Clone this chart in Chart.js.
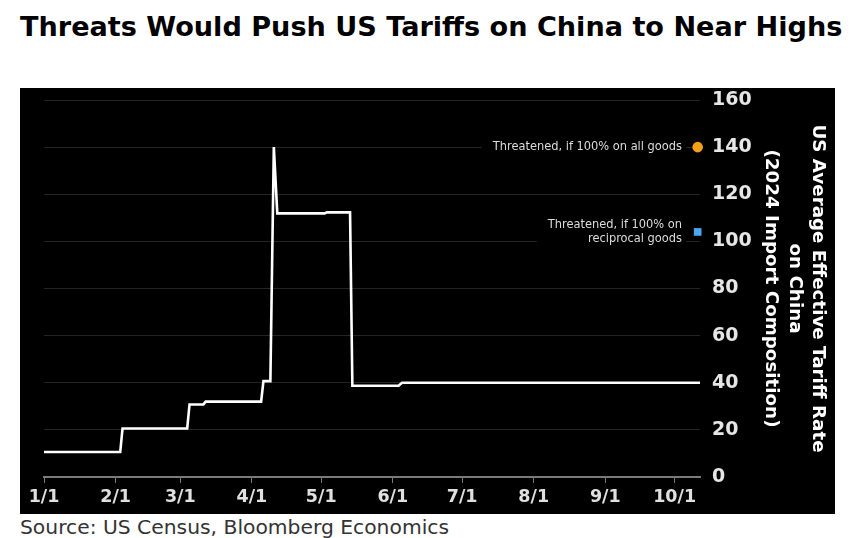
<!DOCTYPE html>
<html>
<head>
<meta charset="utf-8">
<title>Threats Would Push US Tariffs on China to Near Highs</title>
<script src="https://cdn.jsdelivr.net/npm/chart.js@4.4.1/dist/chart.umd.min.js"></script>
<style>
  html, body { margin: 0; padding: 0; background: #fff; }
  body { width: 858px; height: 538px; position: relative; overflow: hidden; font-family: "DejaVu Sans", sans-serif; }
  .title { position: absolute; left: 20px; top: 11px; font-size: 27.1px; line-height: 32px; font-weight: bold; color: #000; white-space: nowrap; }
  .panel { position: absolute; left: 20px; top: 88px; width: 815px; height: 426px; background: #000; }
  .source { position: absolute; left: 20px; top: 515px; font-size: 20.3px; line-height: 24px; color: #333; white-space: nowrap; }
</style>
</head>
<body>
<div class="title">Threats Would Push US Tariffs on China to Near Highs</div>
<div class="panel"><canvas id="tariffChart" width="815" height="426"></canvas></div>
<div class="source">Source: US Census, Bloomberg Economics</div>

<script>
// days since Jan 1 where the line changes, and the rate at each of them
const dayIndex = [0, 33, 34, 62, 63, 69, 70, 94, 95, 98, 99.5, 101, 121.5, 122.5, 132.5, 133.5, 153.5, 155, 284];
const tariffRate = [10.6, 10.6, 20.6, 20.6, 30.8, 30.8, 32.0, 32.0, 40.7, 40.7, 140, 111.9, 111.9, 112.3, 112.3, 38.7, 38.7, 40.0, 40.0];

// threatened levels, shown at the right edge
const markerDay = 283;
const threatenedAll = 140;
const threatenedReciprocal = 104;
const noteAll = ['Threatened, if 100% on all goods'];
const noteReciprocal = ['Threatened, if 100% on', 'reciprocal goods'];

// x axis ticks (first day of each month)
const monthStart = [0, 31, 59, 90, 120, 151, 181, 212, 243, 273];
const monthLabels = ['1/1', '2/1', '3/1', '4/1', '5/1', '6/1', '7/1', '8/1', '9/1', '10/1'];

const yTicks = [0, 20, 40, 60, 80, 100, 120, 140, 160];
const yTitle = ['US Average Effective Tariff Rate', 'on China', '(2024 Import Composition)'];

Chart.defaults.font.family = '"DejaVu Sans", sans-serif';

// labels next to the threatened markers, with a black box so the grid stops behind them
const notePlugin = {
  id: 'notes',
  beforeDatasetsDraw(chart) {
    const ctx = chart.ctx;
    const y = chart.scales.y;
    const right = chart.chartArea.right - 18;
    const notes = [
      { lines: noteAll, value: threatenedAll },
      { lines: noteReciprocal, value: threatenedReciprocal }
    ];
    ctx.save();
    ctx.font = '12.7px "DejaVu Sans Condensed", "DejaVu Sans", sans-serif';
    ctx.textAlign = 'right';
    ctx.textBaseline = 'middle';
    notes.forEach(n => {
      const py = y.getPixelForValue(n.value);
      const lh = 14;
      const y0 = py - (n.lines.length - 1) * lh / 2;
      const w = Math.max(...n.lines.map(t => ctx.measureText(t).width));
      ctx.fillStyle = '#000';
      ctx.fillRect(right - w - 11, y0 - lh / 2 - 2, w + 15, n.lines.length * lh + 4);
      ctx.fillStyle = '#dcdcdc';
      n.lines.forEach((t, i) => ctx.fillText(t, right, y0 + i * lh));
    });
    ctx.restore();
  }
};

const ctx = document.getElementById('tariffChart').getContext('2d');
new Chart(ctx, {
  type: 'line',
  data: {
    datasets: [
      {
        data: dayIndex.map((d, i) => ({ x: d, y: tariffRate[i] })),
        borderColor: '#ffffff',
        borderWidth: 2.6,
        pointRadius: 0,
        tension: 0
      },
      {
        data: [{ x: markerDay, y: threatenedAll }],
        showLine: false,
        clip: false,
        pointStyle: 'circle',
        pointRadius: 5.3,
        pointBorderWidth: 0,
        pointBackgroundColor: '#f5a01a'
      },
      {
        data: [{ x: markerDay, y: threatenedReciprocal }],
        showLine: false,
        clip: false,
        pointStyle: 'rect',
        pointRadius: 5.4,
        pointBorderWidth: 0,
        pointBackgroundColor: '#4aa8f2'
      }
    ]
  },
  options: {
    responsive: false,
    animation: false,
    layout: { padding: { left: 24, top: 12, right: 0, bottom: 0 } },
    plugins: {
      legend: { display: false },
      tooltip: { enabled: false }
    },
    scales: {
      x: {
        type: 'linear',
        min: 0,
        max: 284,
        afterBuildTicks: scale => { scale.ticks = monthStart.map(v => ({ value: v })); },
        afterFit: scale => { scale.height = 37; },
        grid: { drawOnChartArea: false, drawTicks: true, tickLength: 6, color: '#7a7a7a', lineWidth: 1 },
        border: { display: true, color: '#7a7a7a', width: 2 },
        ticks: {
          autoSkip: false,
          maxRotation: 0,
          padding: 4,
          color: '#e0e0e0',
          font: { size: 17.5, weight: 'bold' },
          callback: (value, index) => monthLabels[index]
        }
      },
      y: {
        position: 'right',
        min: 0,
        max: 160,
        afterBuildTicks: scale => { scale.ticks = yTicks.map(v => ({ value: v })); },
        afterFit: scale => {
          scale.width = 135;
          scale.paddingTop = 0;
          scale.paddingBottom = 0;
        },
        grid: { color: '#242424', lineWidth: 1, drawTicks: false },
        border: { display: false },
        ticks: {
          padding: 12,
          color: '#e6e6e6',
          font: { size: 19, weight: 'bold' }
        },
        title: {
          display: true,
          text: yTitle,
          color: '#ffffff',
          font: { size: 18.3, weight: 'bold', lineHeight: 1.3 },
          padding: { top: 5, bottom: 0 }
        }
      }
    }
  },
  plugins: [notePlugin]
});
</script>
</body>
</html>
